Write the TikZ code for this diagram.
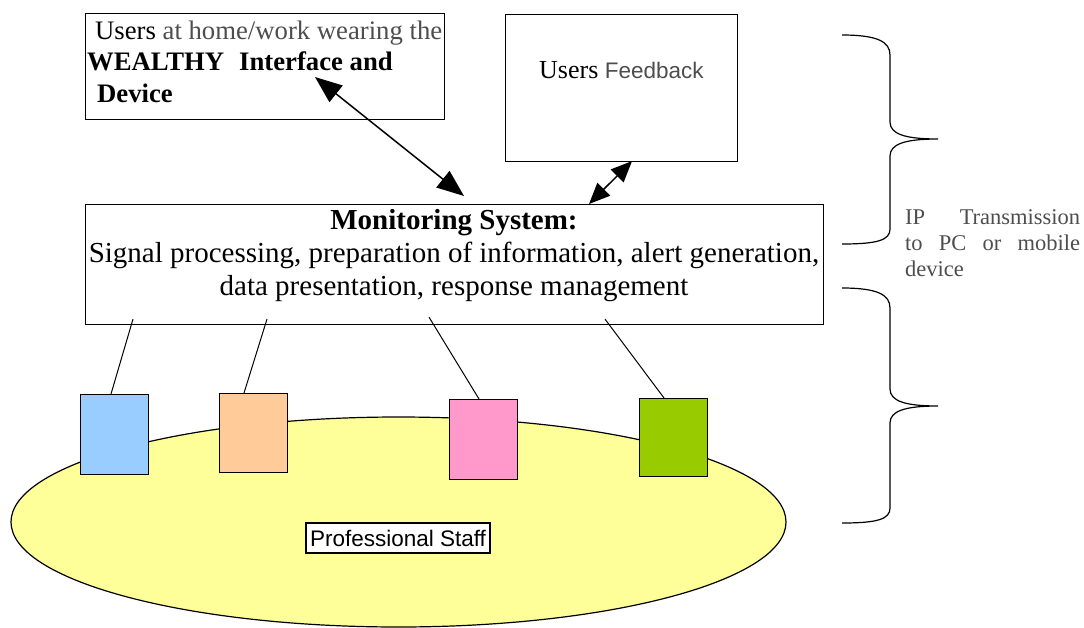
\documentclass[tikz,border=0pt]{standalone}
\usepackage{fontspec}
\setmainfont{Liberation Serif}
\newfontfamily\arialf{Liberation Sans}
\usetikzlibrary{arrows.meta,shapes.geometric,calc}
\definecolor{ellyellow}{HTML}{FFFF99}
\definecolor{boxblue}{HTML}{99CCFF}
\definecolor{boxorange}{HTML}{FFCC99}
\definecolor{boxpink}{HTML}{FF99CC}
\definecolor{boxgreen}{HTML}{99CC00}
\definecolor{txtgray}{HTML}{4D4D4D}
\begin{document}
\begin{tikzpicture}[x=1pt,y=-1pt,
  frame/.style={draw=black, line width=1.1pt, inner sep=0pt, anchor=north west},
  txt/.style={inner sep=0pt, anchor=base west},
  bigarrow/.style={{Triangle[length=27pt,width=21pt]}-{Triangle[length=27pt,width=21pt]}, line width=1.5pt},
  smallarrow/.style={{Triangle[length=21pt,width=18pt]}-{Triangle[length=21pt,width=18pt]}, line width=1.5pt},
  conn/.style={line width=1pt},
  bracepath/.style={line width=1.2pt}]
\useasboundingbox (0,0) rectangle (1084,627);
% ellipse
\node[draw, ellipse, fill=ellyellow, line width=1.2pt, minimum width=775pt, minimum height=210pt, inner sep=0pt] (staff) at (398.5,522) {};
\node[draw, line width=2pt, fill=white, minimum width=184pt, minimum height=30pt, inner sep=0pt, font=\arialf\fontsize{22.5}{27}\selectfont] (ps) at (398,538) {Professional Staff};
% boxes
\node[frame, minimum width=359pt, minimum height=106pt] (users) at (85,13) {};
\node[frame, minimum width=232pt, minimum height=147pt] (fb) at (505,14) {};
\node[frame, minimum width=738pt, minimum height=120pt] (mon) at (85,204) {};
\node[frame, fill=boxblue, minimum width=68pt, minimum height=80pt] (blue) at (80,394) {};
\node[frame, fill=boxorange, minimum width=68pt, minimum height=79pt] (orange) at (219,393) {};
\node[frame, fill=boxpink, minimum width=68pt, minimum height=80pt] (pink) at (449,399) {};
\node[frame, fill=boxgreen, minimum width=68pt, minimum height=78pt] (green) at (639,398) {};
% texts of users box
\node[txt, font=\fontsize{26.7}{32}\selectfont] (u1) at (95,39) {Users \textcolor{txtgray}{at home/work wearing the}};
\node[txt, font=\fontsize{26.7}{32}\selectfont\bfseries] (u2) at (87,70) {WEALTHY};
\node[txt, font=\fontsize{26.7}{32}\selectfont\bfseries] (u2b) at (239,70) {Interface and};
\node[txt, font=\fontsize{26.7}{32}\selectfont\bfseries] (u3) at (97,102) {Device};
% feedback text
\node[txt] (fbt) at (539,78) {\fontsize{26}{30}\selectfont Users {\arialf\fontsize{22.5}{27}\selectfont\color{txtgray}Feedback}};
% monitoring text
\node[inner sep=0pt, anchor=base, font=\fontsize{29}{34}\selectfont\bfseries] (m1) at (454,229) {Monitoring System:};
\node[inner sep=0pt, anchor=base, font=\fontsize{29}{34}\selectfont] (m2) at (454,262) {Signal processing, preparation of information, alert generation,};
\node[inner sep=0pt, anchor=base, font=\fontsize{29}{34}\selectfont] (m3) at (454,295) {data presentation, response management};
% IP text
\node[anchor=north west, inner sep=0pt, text width=175pt, align=justify, text=txtgray, font=\fontsize{22.5}{26}\selectfont] (ip) at (905,209.8) {IP Transmission\linebreak to PC or mobile\linebreak device};
% arrows
\draw[bigarrow] ($(users.north west)+(230,64)$) -- ($(mon.north west)+(379,-8)$);
\draw[smallarrow] ($(fb.south west)+(127,-1)$) -- ($(mon.north west)+(504,0)$);
% connectors
\draw[conn] ($(mon.south west)+(48,-6)$) -- ($(blue.north west)+(31,0)$);
\draw[conn] ($(mon.south west)+(182,-6)$) -- ($(orange.north west)+(25,0)$);
\draw[conn] ($(mon.south west)+(344,-8)$) -- ($(pink.north west)+(30,0)$);
\draw[conn] ($(mon.south west)+(520,-6)$) -- ($(green.north west)+(25,0)$);
% braces
\draw[bracepath] (842,35) .. controls (878,35) and (890,42) .. (890,55) -- (890,122) .. controls (890,134) and (905,139) .. (938,139) .. controls (905,139) and (890,144) .. (890,156) -- (890,229) .. controls (890,240) and (878,244) .. (842,244);
\draw[bracepath] (842,288) .. controls (878,288) and (890,295) .. (890,308) -- (890,389) .. controls (890,401) and (905,406) .. (938,406) .. controls (905,406) and (890,411) .. (890,423) -- (890,508) .. controls (890,519) and (878,523) .. (842,523);
\end{tikzpicture}
\end{document}
